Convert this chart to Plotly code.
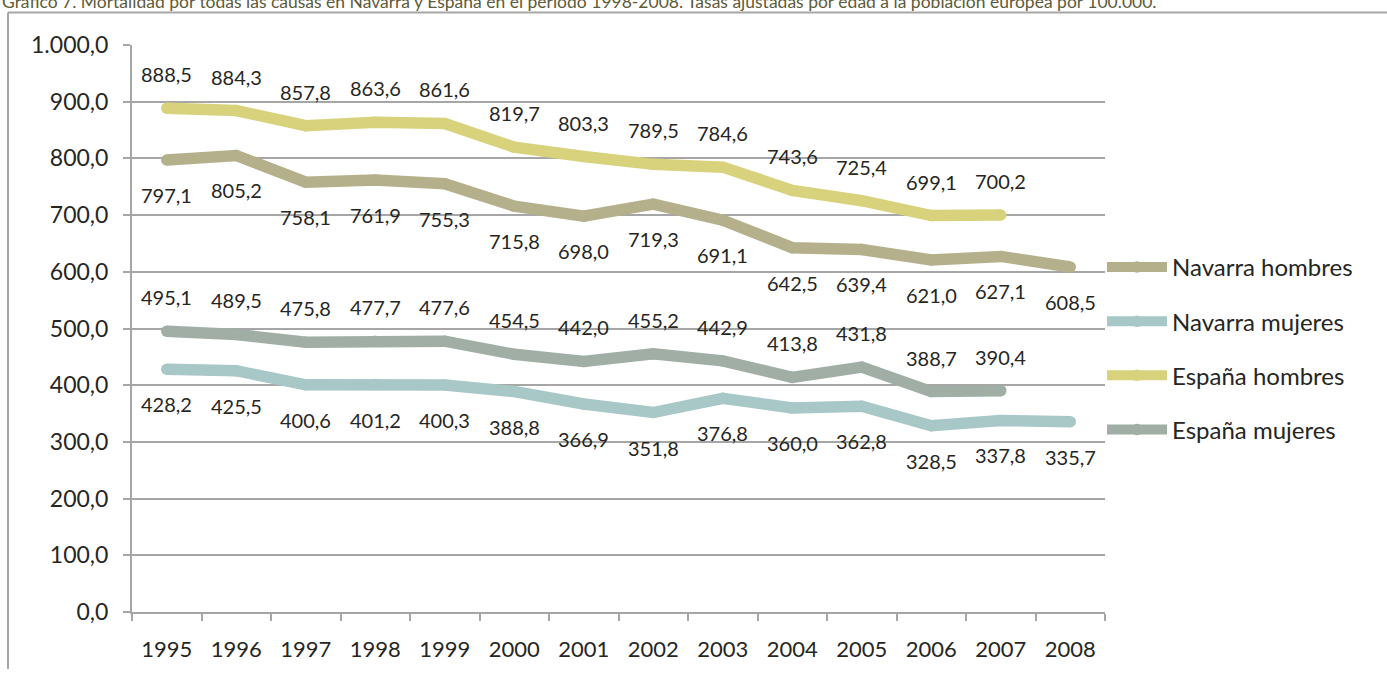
import plotly.graph_objects as go

years = [1995, 1996, 1997, 1998, 1999, 2000, 2001, 2002,
         2003, 2004, 2005, 2006, 2007, 2008]

navarra_hombres = [797.1, 805.2, 758.1, 761.9, 755.3, 715.8, 698.0, 719.3,
                   691.1, 642.5, 639.4, 621.0, 627.1, 608.5]
navarra_mujeres = [428.2, 425.5, 400.6, 401.2, 400.3, 388.8, 366.9, 351.8,
                   376.8, 360.0, 362.8, 328.5, 337.8, 335.7]
espana_hombres = [888.5, 884.3, 857.8, 863.6, 861.6, 819.7, 803.3, 789.5,
                  784.6, 743.6, 725.4, 699.1, 700.2, None]
espana_mujeres = [495.1, 489.5, 475.8, 477.7, 477.6, 454.5, 442.0, 455.2,
                  442.9, 413.8, 431.8, 388.7, 390.4, None]

series = [
    ("Navarra hombres", navarra_hombres, "#b5b08c", "below"),
    ("Navarra mujeres", navarra_mujeres, "#a8c7c7", "below"),
    ("España hombres", espana_hombres, "#d9d27c", "above"),
    ("España mujeres", espana_mujeres, "#a0aea6", "above"),
]

title_text = ("Gráfico 7. Mortalidad por todas las causas en Navarra y España en el período 1998-2008. "
              "Tasas ajustadas por edad a la población europea por 100.000.")

FONT = "Lato"
TXT = "#26261f"
GRID = "#a6a6a6"

def fmt(v):
    return f"{v:.1f}".replace(".", ",")

fig = go.Figure()
annotations = []
for i, (name, vals, color, pos) in enumerate(series):
    xs = [y for y, v in zip(years, vals) if v is not None]
    ys = [v for v in vals if v is not None]
    fig.add_trace(go.Scatter(
        x=xs, y=ys, name=name, mode="lines+markers",
        line=dict(color=color, width=11.5),
        marker=dict(color=color, size=11.5, line=dict(width=0)),
        legendgroup=f"g{i}",
    ))
    for x, v in zip(xs, ys):
        annotations.append(dict(
            x=x, y=v, xref="x", yref="y", text=fmt(v), showarrow=False,
            yshift=34 if pos == "above" else -35,
            font=dict(family=FONT, size=20, color=TXT),
        ))

W, H = 1387, 674
L, R, T, B = 132, 282, 45, 53
pw, ph = W - L - R, H - T - B

def px(xp):
    return (xp - L) / pw

def py(yp):
    return (H - B - yp) / ph

annotations.append(dict(
    x=px(0), y=py(1), xref="paper", yref="paper", xanchor="left", yanchor="middle",
    text=title_text, showarrow=False,
    font=dict(family=FONT, size=17.5, color="#5d5b3a"),
))

shapes = [
    dict(type="line", xref="paper", yref="paper", x0=px(8), x1=px(8), y0=py(12), y1=py(H + 5),
         line=dict(color=GRID, width=2)),
    dict(type="line", xref="paper", yref="paper", x0=px(8), x1=px(W + 5), y0=py(12), y1=py(12),
         line=dict(color=GRID, width=2)),
]

fig.update_layout(
    width=W, height=H,
    margin=dict(l=L, r=R, t=T, b=B, pad=0),
    paper_bgcolor="white", plot_bgcolor="white",
    font=dict(family=FONT, color=TXT),
    showlegend=True,
    legend=dict(
        x=px(1102), xanchor="left", y=py(248), yanchor="top",
        font=dict(family=FONT, size=24, color=TXT),
        tracegroupgap=20, itemwidth=60, bgcolor="rgba(0,0,0,0)",
    ),
    xaxis=dict(
        range=[1994.5, 2008.5], tickvals=years, ticktext=[str(y) for y in years],
        showline=True, linecolor=GRID, linewidth=2,
        ticks="", showgrid=False, zeroline=False,
        minor=dict(tick0=1994.5, dtick=1, ticks="outside", ticklen=7,
                   tickcolor=GRID, tickwidth=2, showgrid=False),
        tickfont=dict(family=FONT, size=22, color=TXT),
        ticklabelstandoff=17,
    ),
    yaxis=dict(
        range=[0, 1000], tickvals=list(range(0, 1001, 100)),
        ticktext=[f"{v:,}".replace(",", ".") + ",0" for v in range(0, 1001, 100)],
        showline=True, linecolor=GRID, linewidth=2,
        ticks="outside", ticklen=7, tickcolor=GRID, tickwidth=2,
        showgrid=True, gridcolor=GRID, gridwidth=2, zeroline=False,
        tickfont=dict(family=FONT, size=23, color=TXT),
        ticklabelstandoff=10,
    ),
    annotations=annotations,
    shapes=shapes,
)

fig.write_html("out.html", config={"displayModeBar": False},
               post_script="document.body.style.margin='0';")
